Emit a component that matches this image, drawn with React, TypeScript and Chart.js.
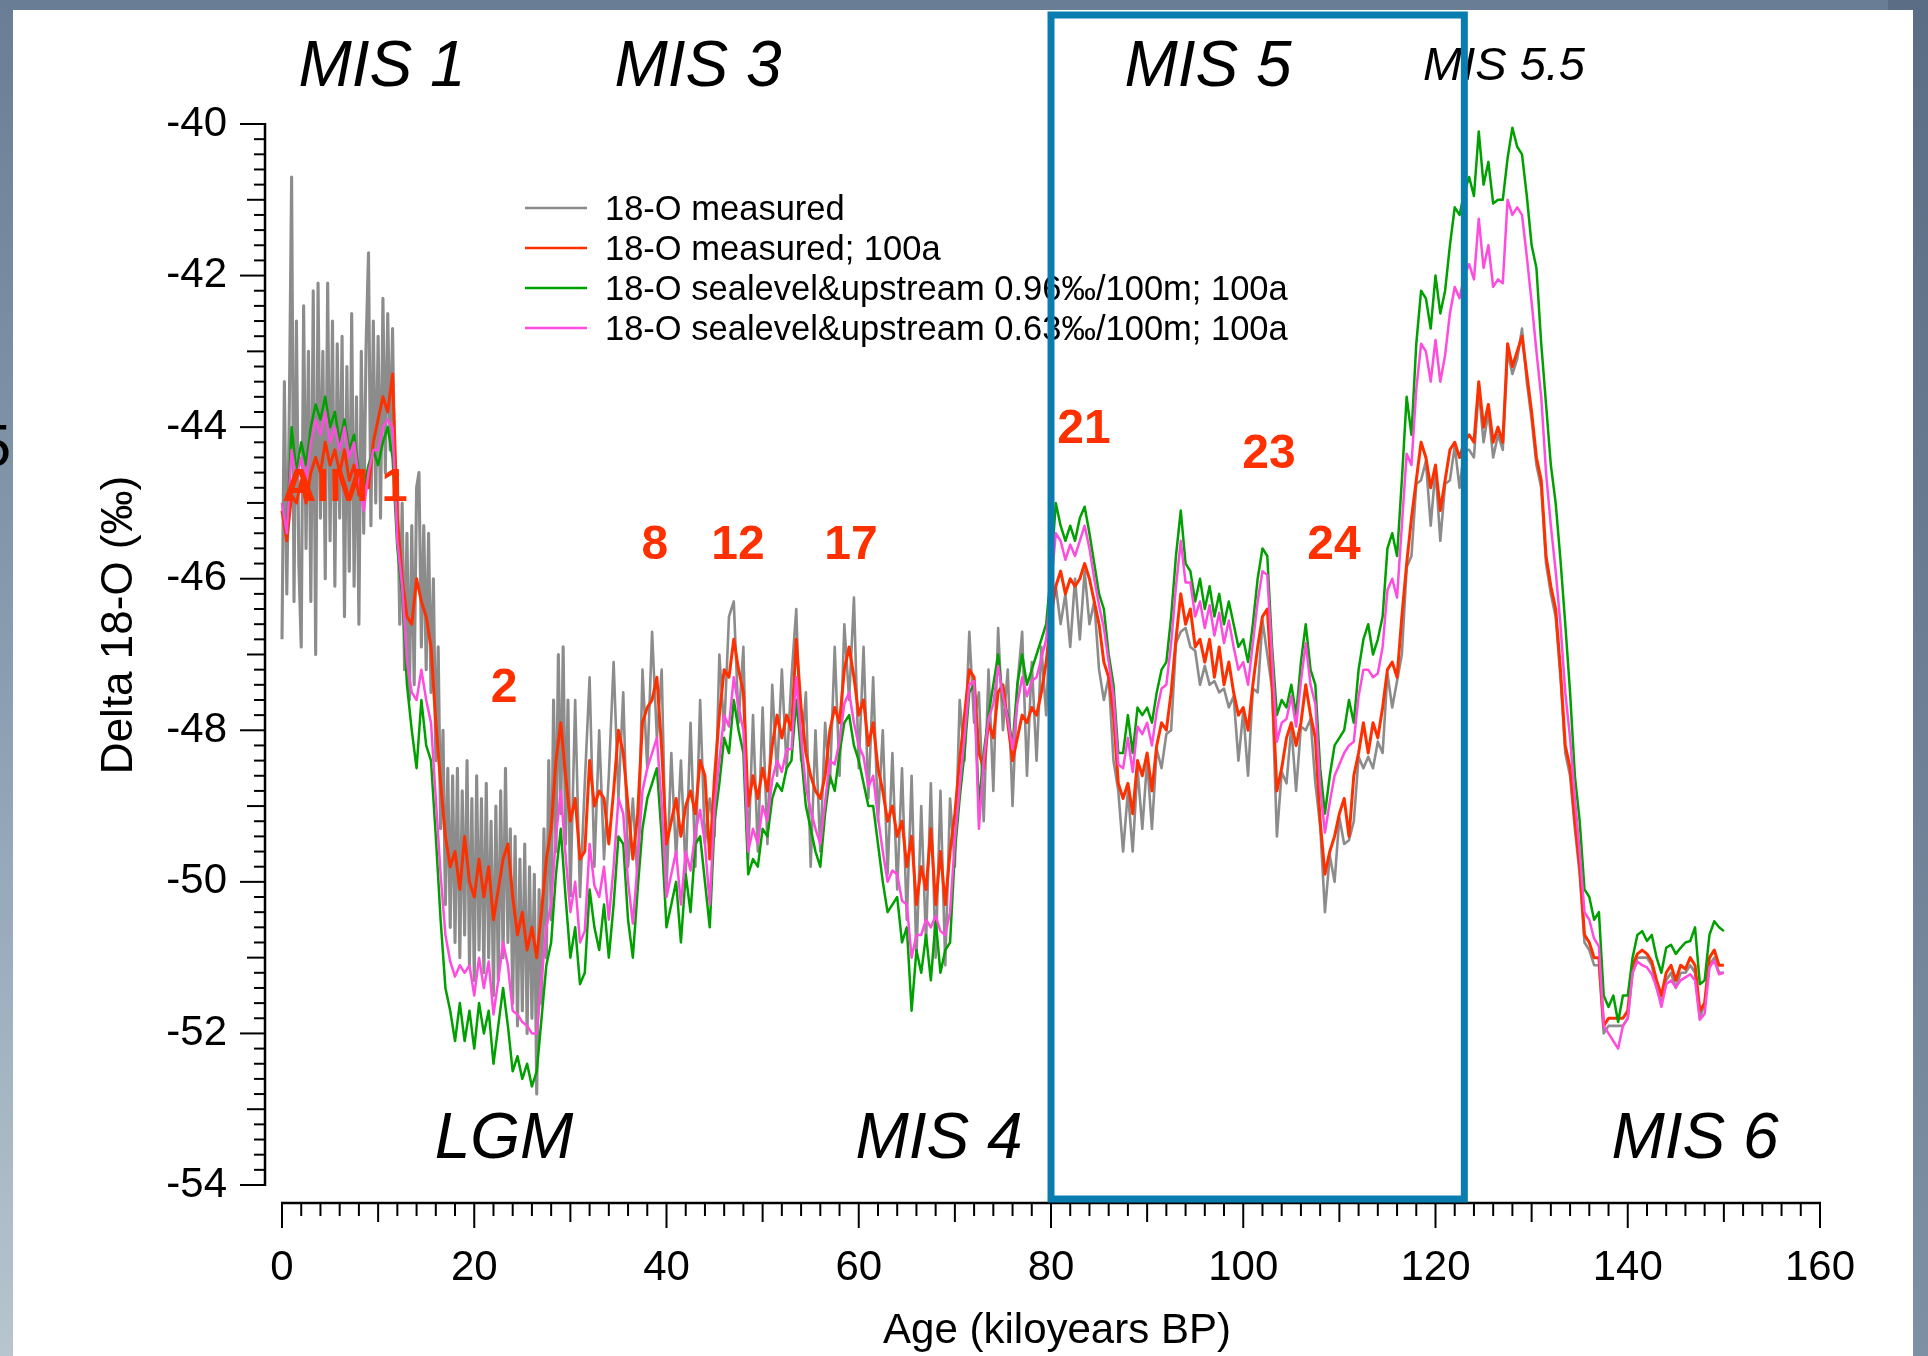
import React, { useEffect, useRef } from 'react';
import { Chart, registerables } from 'chart.js';

Chart.register(...registerables);

const W = 1928;
const H = 1356;
const FONT = '"Liberation Sans", Arial, Helvetica, sans-serif';

// ---------- axes ----------
const X_MIN = 0;
const X_MAX = 160;
const Y_MIN = -54;
const Y_MAX = -40;
const X_TICKS = [0, 20, 40, 60, 80, 100, 120, 140, 160];
const Y_TICKS = [-54, -52, -50, -48, -46, -44, -42, -40];
const X_MINOR_STEP = 2;
const Y_MINOR_STEP = 0.2;

// ---------- sampling of the series (ka BP) ----------
const AGE_START = 0;
const AGE_STEP = 0.5;
const RAW_FINE_START = 0;
const RAW_FINE_STEP = 0.25;
const RAW_COARSE_START = 30.5;
const RAW_COARSE_STEP = 0.5;

// 18-O measured (raw), 0 - 30 ka every 0.25 ka
const MEASURED_RAW_FINE = [
  -46.8, -43.4, -46.2, -43.9, -40.7, -46.3, -42.6, -45.8,
  -46.9, -42.4, -45.6, -43.0, -46.3, -42.2, -47.0, -42.1,
  -45.2, -43.0, -46.0, -42.1, -45.5, -42.6, -46.1, -42.9,
  -45.2, -42.8, -46.5, -43.2, -45.9, -42.5, -46.1, -43.6,
  -46.6, -43.0, -45.4, -42.9, -41.7, -45.3, -42.6, -45.0,
  -42.8, -45.2, -42.3, -44.6, -42.5, -44.3, -42.7, -44.9,
  -44.6, -46.6, -45.0, -47.2, -45.4, -47.6, -45.3, -47.4,
  -44.8, -44.6, -46.9, -45.3, -47.2, -45.4, -47.5, -46.0,
  -48.4, -46.9, -49.3, -48.0, -50.3, -48.5, -50.6, -48.6,
  -50.8, -48.5, -51.0, -48.8, -50.7, -48.4, -51.1, -48.9,
  -51.3, -48.6, -50.9, -48.9, -51.2, -48.7, -51.0, -49.2,
  -51.5, -49.0, -51.3, -48.8, -51.0, -48.5, -50.8, -49.3,
  -51.6, -49.4, -51.9, -49.7, -51.7, -49.5, -52.0, -49.8,
  -51.8, -49.9, -52.8, -50.1, -51.6, -49.3, -51.0, -48.4,
  -50.5, -47.6, -49.6, -47.0, -49.1, -46.9, -49.5, -47.6,
  -50.2,
];

// 18-O measured (raw), 30.5 - 150 ka every 0.5 ka
const MEASURED_RAW_COARSE = [
  -47.6, -50.2, -48.7, -47.3, -49.8, -48.0, -49.7, -48.6, -47.1, -48.9,
  -47.5, -49.8, -48.9, -50.0, -47.2, -48.5, -46.7, -48.1, -47.2, -50.1,
  -48.3, -49.7, -48.4, -49.9, -47.9, -49.8, -47.6, -49.5, -48.9, -49.4,
  -47.0, -48.0, -46.5, -46.3, -47.9, -46.9, -49.7, -47.8, -49.6, -47.7,
  -49.5, -47.4, -48.6, -47.2, -48.5, -47.3, -46.4, -48.4, -47.5, -49.8,
  -48.0, -49.6, -47.9, -48.7, -46.9, -48.6, -46.6, -47.6, -46.25, -48.5,
  -46.9, -48.9, -47.3, -49.2, -48.0, -49.9, -48.3, -50.1, -48.5, -50.5,
  -48.6, -51.0, -49.0, -50.8, -48.7, -51.0, -48.8, -51.1, -48.9, -49.8,
  -47.6, -48.4, -46.7, -47.9, -47.5, -49.2, -47.2, -48.8, -46.65, -48.0,
  -47.2, -49.0, -47.4, -46.7, -48.6, -47.1, -48.4, -46.9, -47.8, -46.2,
  -46.1, -46.6, -46.2, -46.9, -46.0, -46.8, -45.9, -46.6, -46.3, -47.2,
  -47.6, -47.3, -48.4, -48.8, -49.6, -48.8, -49.6, -48.5, -49.3, -48.4,
  -49.3, -48.25, -48.5, -48.05, -48.0, -46.85, -46.7, -46.65, -46.9, -46.95,
  -47.4, -47.15, -47.4, -47.35, -47.5, -47.45, -47.7, -47.55, -48.4, -47.75,
  -48.6, -47.45, -47.5, -46.55, -47.0, -47.45, -49.4, -48.55, -48.7, -47.95,
  -48.8, -47.95, -48.0, -47.85, -48.7, -49.25, -50.4, -49.65, -50.0, -49.15,
  -49.5, -49.45, -49.2, -48.35, -48.5, -48.35, -48.5, -48.15, -48.3, -47.25,
  -47.7, -47.35, -47.0, -45.85, -45.7, -44.75, -44.7, -44.45, -45.3, -44.55,
  -45.5, -44.75, -44.7, -44.25, -44.8, -44.3, -44.3, -44.4, -43.5, -44.2,
  -43.8, -44.4, -44.1, -44.3, -43.0, -43.3, -43.1, -42.7, -43.4, -43.9,
  -44.5, -44.8, -45.8, -46.2, -46.5, -47.3, -48.3, -48.6, -49.3, -49.9,
  -50.8, -50.9, -51.1, -51.1, -52.0, -51.9, -51.9, -51.9, -51.9, -51.8,
  -51.2, -51.0, -51.0, -51.0, -51.1, -51.4, -51.6, -51.3, -51.2, -51.4,
  -51.2, -51.2, -51.1, -51.2, -51.8, -51.6, -51.1, -51.0, -51.2, -51.2,
];

// 18-O measured; 100a   (0 - 150 ka every 0.5 ka)
const MEASURED_100A = [
  -45.1, -45.5, -44.9, -45.0, -44.7, -45.0, -44.6, -44.4, -44.6, -44.2,
  -44.5, -44.3, -44.6, -44.3, -44.7, -44.5, -44.9, -44.6, -44.8, -44.2,
  -43.9, -43.6, -43.8, -43.3, -45.2, -46.0, -46.5, -46.6, -46.0, -46.3,
  -46.5, -46.9, -47.9, -48.7, -49.4, -49.8, -49.6, -50.1, -49.4, -50.0,
  -50.2, -49.7, -50.2, -49.8, -50.5, -50.1, -49.7, -49.5, -50.2, -50.7,
  -50.4, -50.9, -50.6, -51.0, -50.4, -49.7, -49.3, -48.4, -47.9, -48.6,
  -49.2, -48.9, -49.7, -49.6, -48.4, -49.0, -48.8, -48.9, -49.5, -48.8,
  -48.0, -48.3, -49.0, -49.7, -49.1, -47.9, -47.7, -47.6, -47.3, -48.25,
  -49.5, -49.2, -48.9, -49.4, -49.0, -48.8, -49.1, -48.4, -48.6, -49.7,
  -48.6, -47.8, -47.2, -47.3, -46.8, -47.2, -47.5, -49.0, -48.6, -48.9,
  -48.5, -48.8, -48.2, -47.8, -48.1, -47.8, -48.0, -46.8, -47.7, -48.3,
  -48.6, -48.8, -48.9, -48.6, -48.0, -47.7, -47.9, -47.2, -46.9, -47.3,
  -47.8, -47.6, -48.2, -47.9, -48.5, -48.8, -49.2, -49.0, -49.4, -49.2,
  -49.8, -49.4, -50.3, -49.8, -50.1, -49.3, -50.3, -49.6, -50.3, -49.6,
  -49.1, -48.4, -47.8, -47.2, -47.3, -48.3, -48.5, -47.9, -48.1, -47.5,
  -47.4, -47.9, -48.4, -48.1, -47.8, -47.9, -47.7, -47.8, -47.5, -47.1,
  -46.5, -46.1, -45.9, -46.2, -46.0, -46.1, -46.0, -45.8, -46.0, -46.3,
  -46.6, -47.1, -47.3, -47.8, -48.7, -48.9, -48.7, -49.1, -48.4, -48.6,
  -48.3, -48.8, -48.2, -47.9, -48.0, -47.5, -46.8, -46.2, -46.6, -46.4,
  -46.9, -46.8, -47.1, -46.8, -47.3, -46.9, -47.4, -47.1, -47.5, -47.8,
  -47.7, -48.0, -47.4, -46.9, -46.5, -46.4, -47.4, -48.8, -48.5, -48.1,
  -47.9, -48.2, -47.9, -47.4, -47.8, -48.1, -49.2, -49.9, -49.6, -49.4,
  -49.1, -48.9, -49.4, -48.6, -48.3, -47.9, -48.3, -47.9, -48.1, -47.7,
  -47.2, -47.1, -47.3, -46.5, -45.8, -45.2, -44.7, -44.2, -44.4, -44.8,
  -44.5, -45.1, -44.7, -44.3, -44.2, -44.4, -44.2, -44.1, -44.2, -43.4,
  -44.0, -43.7, -44.2, -44.0, -44.2, -42.9, -43.2, -43.0, -42.8, -43.3,
  -43.8, -44.4, -44.7, -45.7, -46.1, -46.4, -47.2, -48.2, -48.5, -49.2,
  -49.8, -50.7, -50.8, -51.0, -51.0, -51.9, -51.8, -51.8, -51.8, -51.8,
  -51.7, -51.1, -50.95, -50.9, -50.95, -51.05, -51.3, -51.5, -51.2, -51.1,
  -51.3, -51.1, -51.15, -51.0, -51.1, -51.7, -51.6, -51.0, -50.9, -51.1,
  -51.1,
];

// 18-O sealevel&upstream 0.96‰/100m; 100a
const SEALEVEL_096 = [
  -45.0, -45.4, -44.0, -44.6, -44.2, -44.5, -44.0, -43.7, -43.9, -43.6,
  -44.0, -43.8, -44.2, -43.9, -44.3, -44.1, -44.6, -44.8, -44.5, -44.3,
  -44.5, -44.2, -44.0, -44.4, -45.6, -46.2, -47.4, -48.0, -48.5, -47.6,
  -48.2, -48.4, -49.4, -50.5, -51.4, -51.7, -52.1, -51.6, -52.1, -51.7,
  -52.2, -51.6, -52.0, -51.7, -52.4, -51.9, -51.4, -51.9, -52.5, -52.3,
  -52.6, -52.4, -52.7, -52.5, -51.8, -51.1, -50.8, -49.9, -49.3, -50.2,
  -51.0, -50.6, -51.35, -51.2, -50.1, -50.6, -50.9, -50.3, -51.0, -50.3,
  -49.4, -49.5, -50.5, -51.0, -50.1, -49.3, -48.9, -48.7, -48.5, -49.4,
  -50.6, -50.3, -50.0, -50.8, -49.9, -50.4, -49.5, -49.4, -50.0, -50.6,
  -49.2, -48.7, -48.1, -48.3, -47.6, -48.0, -48.3, -49.9, -49.7, -49.8,
  -49.3, -49.4, -48.9, -48.7, -48.8, -48.5, -48.4, -47.6, -48.3, -49.0,
  -49.3, -49.6, -49.8, -49.1, -48.6, -48.8, -48.3, -47.9, -47.8, -48.2,
  -48.4, -48.7, -49.0, -49.0, -49.5, -50.0, -50.4, -50.3, -50.2, -50.8,
  -50.6, -51.7, -50.9, -51.2, -50.7, -51.3, -50.5, -51.2, -50.9, -50.8,
  -49.6, -48.9, -48.3, -47.5, -47.4, -49.0, -48.3, -47.8, -47.4, -47.0,
  -47.6, -47.8, -48.2, -47.4, -47.0, -47.4, -47.2, -47.0, -46.8, -46.6,
  -45.9, -45.0, -45.3, -45.5, -45.3, -45.5, -45.2, -45.05, -45.4, -45.8,
  -46.2, -46.4, -47.0, -47.4, -48.3, -48.3, -47.8, -48.3, -47.7, -47.8,
  -47.7, -47.9, -47.5, -47.2, -47.1, -46.5, -45.7, -45.1, -45.8, -45.9,
  -46.3, -46.0, -46.4, -46.1, -46.5, -46.2, -46.6, -46.3, -46.6, -46.9,
  -46.8, -47.1, -46.6, -46.0, -45.6, -45.7, -46.9, -47.8, -47.6, -47.7,
  -47.4, -47.8, -47.1, -46.6, -47.2, -47.4, -48.5, -49.1, -48.6, -48.2,
  -48.1, -48.0, -47.6, -47.9, -47.2, -46.8, -46.6, -47.0, -46.8, -46.5,
  -45.6, -45.4, -45.7, -44.7, -43.6, -44.1, -42.9, -42.2, -42.3, -42.7,
  -42.0, -42.5, -42.2, -41.6, -41.1, -41.2, -40.9, -40.7, -40.95, -40.1,
  -40.8, -40.5, -41.05, -41.0, -41.0, -40.45, -40.05, -40.3, -40.4, -40.95,
  -41.6, -41.9, -42.9, -43.7, -44.5, -45.0, -45.75, -46.6, -47.5, -48.6,
  -49.2, -50.1, -50.2, -50.5, -50.4, -51.5, -51.65, -51.5, -51.85, -51.5,
  -51.5, -51.0, -50.7, -50.65, -50.78, -50.7, -51.0, -51.2, -50.87, -50.83,
  -50.95, -50.87, -50.8, -50.78, -50.6, -51.35, -51.3, -50.7, -50.52, -50.6,
  -50.65,
];

// 18-O sealevel&upstream 0.63‰/100m; 100a
const SEALEVEL_063 = [
  -45.0, -45.4, -44.3, -44.7, -44.4, -44.7, -44.2, -43.9, -44.1, -43.8,
  -44.2, -44.0, -44.3, -44.0, -44.4, -44.2, -44.7, -45.1, -44.6, -44.3,
  -44.3, -44.0, -43.9, -44.0, -45.5, -46.1, -47.1, -47.5, -47.6, -47.2,
  -47.6, -47.9, -48.9, -49.9, -50.7, -51.05, -51.25, -51.1, -51.2, -51.1,
  -51.5, -51.0, -51.4, -51.05, -51.75, -51.3, -50.8, -51.1, -51.7, -51.75,
  -51.85, -51.9, -52.0, -52.0, -51.3, -50.6, -50.3, -49.4, -48.8, -49.65,
  -50.4, -50.0, -50.8, -50.65, -49.5, -50.05, -50.2, -49.8, -50.5, -49.8,
  -48.9, -49.1, -50.0, -50.55, -49.75, -48.8, -48.5, -48.3, -48.1, -49.0,
  -50.2, -49.9, -49.6, -50.3, -49.6, -49.85, -49.35, -49.05, -49.5, -50.3,
  -49.0, -48.4, -47.8, -47.95, -47.3, -47.7, -48.0, -49.6, -49.3, -49.5,
  -49.0, -49.2, -48.65, -48.4, -48.55, -48.25, -48.25, -47.3, -48.1, -48.75,
  -49.05, -49.3, -49.5, -48.95, -48.4, -48.45, -48.15, -47.65, -47.5, -47.9,
  -48.2, -48.35, -48.75, -48.6, -49.15, -49.6, -50.0, -49.85, -49.9, -50.25,
  -50.3, -51.0, -50.7, -50.7, -50.5, -50.6, -50.45, -50.65, -50.7, -50.4,
  -49.45, -48.75, -48.1, -47.4, -47.35, -49.3, -48.4, -47.85, -47.65, -47.15,
  -47.55, -47.85, -48.25, -47.65, -47.3, -47.55, -47.35, -47.3, -47.05, -46.8,
  -46.1, -45.4, -45.5, -45.75, -45.55, -45.7, -45.5, -45.3, -45.6, -46.0,
  -46.35, -46.65, -47.1, -47.55, -48.45, -48.5, -48.1, -48.55, -47.95, -48.05,
  -47.9, -48.2, -47.75, -47.45, -47.4, -46.85, -46.1, -45.5, -46.05, -46.05,
  -46.5, -46.3, -46.65, -46.35, -46.75, -46.45, -46.85, -46.55, -46.9, -47.2,
  -47.1, -47.4, -46.85, -46.3, -45.9, -45.95, -47.05, -48.15, -47.9, -47.85,
  -47.55, -47.95, -47.35, -46.85, -47.4, -47.65, -48.75, -49.35, -48.95, -48.6,
  -48.45, -48.3, -48.2, -48.15, -47.55, -47.2, -47.2, -47.3, -47.25, -46.9,
  -46.15, -46.0, -46.25, -45.3, -44.35, -44.5, -43.5, -42.9, -43.0, -43.4,
  -42.85, -43.4, -43.05, -42.5, -42.15, -42.3, -42.0, -41.85, -42.05, -41.25,
  -41.9, -41.6, -42.15, -42.05, -42.1, -41.0, -41.2, -41.1, -41.2, -41.75,
  -42.35, -43.0, -43.6, -44.6, -45.3, -45.9, -46.6, -47.5, -48.1, -48.9,
  -49.6, -50.4, -50.5, -50.75, -50.85, -51.9, -52.0, -52.1, -52.2, -51.9,
  -51.8, -51.2, -51.05, -51.1, -51.13, -51.22, -51.39, -51.65, -51.35, -51.3,
  -51.39, -51.3, -51.26, -51.22, -51.3, -51.82, -51.74, -51.13, -51.04, -51.22,
  -51.2,
];

const SERIES_LABELS = [
  '18-O measured',
  '18-O measured; 100a',
  '18-O sealevel&upstream 0.96‰/100m; 100a',
  '18-O sealevel&upstream 0.63‰/100m; 100a',
];
const SERIES_COLORS = ['#8C8C8C', '#FF3000', '#00A000', '#FF4CDF'];
const SERIES_WIDTHS = [2.6, 3, 2.5, 2.5];
const RAW_DENSE_WIDTH = 3.1;

// stage annotations (italic black)
const PHASE_LABELS = [
  { text: 'MIS 1', age: 10.4, value: -39.5, size: 64 },
  { text: 'MIS 3', age: 43.28, value: -39.5, size: 64 },
  { text: 'MIS 5', age: 96.33, value: -39.5, size: 64 },
  { text: 'MIS 5.5', age: 127.13, value: -39.42, size: 47 },
  { text: 'LGM', age: 23.1, value: -53.64, size: 64 },
  { text: 'MIS 4', age: 68.35, value: -53.64, size: 64 },
  { text: 'MIS 6', age: 147.0, value: -53.64, size: 64 },
];
// event annotations (bold red), centred
const EVENT_LABELS = [
  { text: 'AIM 1', age: 6.55, value: -44.8, size: 47 },
  { text: '2', age: 23.1, value: -47.455, size: 48 },
  { text: '8', age: 38.8, value: -45.568, size: 48 },
  { text: '12', age: 47.44, value: -45.568, size: 48 },
  { text: '17', age: 59.19, value: -45.568, size: 48 },
  { text: '21', age: 83.43, value: -44.038, size: 48 },
  { text: '23', age: 102.68, value: -44.368, size: 48 },
  { text: '24', age: 109.44, value: -45.568, size: 48 },
];
const MIS5_BOX_AGES = [80, 123];

const X_TITLE = 'Age (kiloyears BP)';
const Y_TITLE = 'Delta 18-O (‰)';

function toPoints(values: number[], start: number, step: number) {
  return values.map((v, i) => ({ x: start + i * step, y: v }));
}

const decorPlugin = {
  id: 'decor',
  beforeDraw(chart: any) {
    const ctx = chart.ctx;
    ctx.save();
    const g = ctx.createLinearGradient(0, 0, 0, H);
    g.addColorStop(0, '#697D94');
    g.addColorStop(0.5, '#8A9EB1');
    g.addColorStop(1, '#B6C5CF');
    ctx.fillStyle = g;
    ctx.fillRect(0, 0, W, H);
    const g2 = ctx.createLinearGradient(0, 0, 0, H);
    g2.addColorStop(0, '#5B6D84');
    g2.addColorStop(1, '#7E90A3');
    ctx.fillStyle = g2;
    ctx.fillRect(W - 40, 0, 40, H);
    ctx.fillStyle = '#000';
    ctx.font = `60px ${FONT}`;
    ctx.textAlign = 'right';
    ctx.textBaseline = 'alphabetic';
    ctx.fillText('5', 11, 466);
    ctx.fillStyle = '#FFFFFF';
    ctx.fillRect(13, 10, 1900, H - 10);
    ctx.restore();
  },
  afterDraw(chart: any) {
    const ctx = chart.ctx;
    const xs = chart.scales.x;
    const ys = chart.scales.y;
    const px0 = xs.getPixelForValue(X_MIN);
    const px1 = xs.getPixelForValue(X_MAX);
    const pyTop = ys.getPixelForValue(Y_MAX);
    const pyBot = ys.getPixelForValue(Y_MIN);
    const yAxisX = px0 - 17;
    const xAxisY = pyBot + 18;
    ctx.save();
    ctx.strokeStyle = '#000';
    ctx.lineCap = 'butt';

    // y axis
    ctx.lineWidth = 2.5;
    ctx.beginPath();
    ctx.moveTo(yAxisX, pyTop - 1);
    ctx.lineTo(yAxisX, pyBot + 1);
    ctx.stroke();
    ctx.lineWidth = 2;
    const nY = Math.round((Y_MAX - Y_MIN) / Y_MINOR_STEP);
    for (let i = 0; i <= nY; i++) {
      const p = ys.getPixelForValue(Y_MIN + i * Y_MINOR_STEP);
      const len = i % 10 === 0 ? 25 : i % 5 === 0 ? 18 : 11;
      ctx.beginPath();
      ctx.moveTo(yAxisX - len, p);
      ctx.lineTo(yAxisX, p);
      ctx.stroke();
    }

    // x axis
    ctx.lineWidth = 2.5;
    ctx.beginPath();
    ctx.moveTo(px0 - 1, xAxisY);
    ctx.lineTo(px1 + 1, xAxisY);
    ctx.stroke();
    ctx.lineWidth = 2;
    const nX = Math.round((X_MAX - X_MIN) / X_MINOR_STEP);
    for (let i = 0; i <= nX; i++) {
      const p = xs.getPixelForValue(X_MIN + i * X_MINOR_STEP);
      const len = i % 10 === 0 ? 25 : i % 5 === 0 ? 19 : 13;
      ctx.beginPath();
      ctx.moveTo(p, xAxisY);
      ctx.lineTo(p, xAxisY + len);
      ctx.stroke();
    }

    // axis titles
    ctx.fillStyle = '#000';
    ctx.font = `42px ${FONT}`;
    ctx.textAlign = 'center';
    ctx.textBaseline = 'alphabetic';
    ctx.fillText(X_TITLE, (px0 + px1) / 2 + 6, 1343);
    ctx.save();
    ctx.font = `44px ${FONT}`;
    ctx.translate(132, 625);
    ctx.rotate(-Math.PI / 2);
    ctx.fillText(Y_TITLE, 0, 0);
    ctx.restore();

    // stage labels
    PHASE_LABELS.forEach((l) => {
      ctx.font = `italic ${l.size}px ${FONT}`;
      ctx.fillStyle = '#000';
      ctx.textAlign = 'center';
      ctx.textBaseline = 'alphabetic';
      ctx.fillText(l.text, xs.getPixelForValue(l.age), ys.getPixelForValue(l.value));
    });
    // event labels
    EVENT_LABELS.forEach((l) => {
      ctx.font = `bold ${l.size}px ${FONT}`;
      ctx.fillStyle = SERIES_COLORS[1];
      ctx.textAlign = 'center';
      ctx.textBaseline = 'middle';
      ctx.fillText(l.text, xs.getPixelForValue(l.age), ys.getPixelForValue(l.value));
    });

    // legend
    chart.data.datasets.forEach((ds: any, i: number) => {
      const y = 208 + i * 40;
      ctx.strokeStyle = ds.borderColor;
      ctx.lineWidth = 2.5;
      ctx.beginPath();
      ctx.moveTo(525, y);
      ctx.lineTo(587, y);
      ctx.stroke();
      ctx.fillStyle = '#000';
      ctx.font = `34.5px ${FONT}`;
      ctx.textAlign = 'left';
      ctx.textBaseline = 'alphabetic';
      ctx.fillText(ds.label, 605, y + 12);
    });

    // MIS 5 box
    const bx0 = xs.getPixelForValue(MIS5_BOX_AGES[0]);
    const bx1 = xs.getPixelForValue(MIS5_BOX_AGES[1]);
    ctx.strokeStyle = '#0A7DB0';
    ctx.lineWidth = 7;
    ctx.lineJoin = 'miter';
    ctx.strokeRect(bx0, 15, bx1 - bx0, xAxisY - 4 - 15);
    ctx.restore();
  },
};

export default function App() {
  const canvasRef = useRef<HTMLCanvasElement | null>(null);

  useEffect(() => {
    document.body.style.margin = '0';
    document.body.style.overflow = 'hidden';
    const canvas = canvasRef.current;
    if (!canvas) return;

    const rawPoints = [
      ...toPoints(MEASURED_RAW_FINE, RAW_FINE_START, RAW_FINE_STEP),
      ...toPoints(MEASURED_RAW_COARSE, RAW_COARSE_START, RAW_COARSE_STEP),
    ];
    const seriesData = [
      rawPoints,
      toPoints(MEASURED_100A, AGE_START, AGE_STEP),
      toPoints(SEALEVEL_096, AGE_START, AGE_STEP),
      toPoints(SEALEVEL_063, AGE_START, AGE_STEP),
    ];
    const denseCount = MEASURED_RAW_FINE.length - 1;

    const chart = new Chart(canvas, {
      type: 'line',
      data: {
        datasets: seriesData.map((d, i) => ({
          label: SERIES_LABELS[i],
          data: d,
          borderColor: SERIES_COLORS[i],
          backgroundColor: SERIES_COLORS[i],
          borderWidth: SERIES_WIDTHS[i],
          pointRadius: 0,
          tension: 0,
          fill: false,
          borderJoinStyle: 'round',
          clip: false,
          order: 4 - i,
          segment:
            i === 0
              ? {
                  borderWidth: (c: any) =>
                    c.p0DataIndex < denseCount ? RAW_DENSE_WIDTH : SERIES_WIDTHS[0],
                }
              : undefined,
        })),
      },
      options: {
        responsive: false,
        animation: false,
        devicePixelRatio: 1,
        events: [],
        parsing: false,
        layout: { padding: { left: 0, top: 124, right: 108, bottom: 0 } },
        plugins: {
          legend: { display: false },
          tooltip: { enabled: false },
          title: { display: false },
        },
        scales: {
          x: {
            type: 'linear',
            min: X_MIN,
            max: X_MAX,
            grid: { display: false, drawTicks: false },
            border: { display: false },
            ticks: {
              font: { family: FONT, size: 42 },
              color: '#000',
              padding: 58,
              maxRotation: 0,
              minRotation: 0,
              autoSkip: false,
              callback: (v: any) => String(v),
            },
            afterBuildTicks: (s: any) => {
              s.ticks = X_TICKS.map((v) => ({ value: v }));
            },
            afterFit: (s: any) => {
              s.height = 171;
              s.paddingLeft = 0;
              s.paddingRight = 0;
            },
          },
          y: {
            type: 'linear',
            min: Y_MIN,
            max: Y_MAX,
            grid: { display: false, drawTicks: false },
            border: { display: false },
            ticks: {
              font: { family: FONT, size: 42 },
              color: '#000',
              padding: 55,
              autoSkip: false,
              callback: (v: any) => String(v),
            },
            afterBuildTicks: (s: any) => {
              s.ticks = Y_TICKS.map((v) => ({ value: v }));
            },
            afterFit: (s: any) => {
              s.width = 282;
              s.paddingTop = 0;
              s.paddingBottom = 0;
            },
          },
        },
      } as any,
      plugins: [decorPlugin],
    });

    return () => {
      chart.destroy();
    };
  }, []);

  return (
    <canvas
      ref={canvasRef}
      width={W}
      height={H}
      style={{ position: 'absolute', left: 0, top: 0, width: W, height: H, display: 'block' }}
    />
  );
}
